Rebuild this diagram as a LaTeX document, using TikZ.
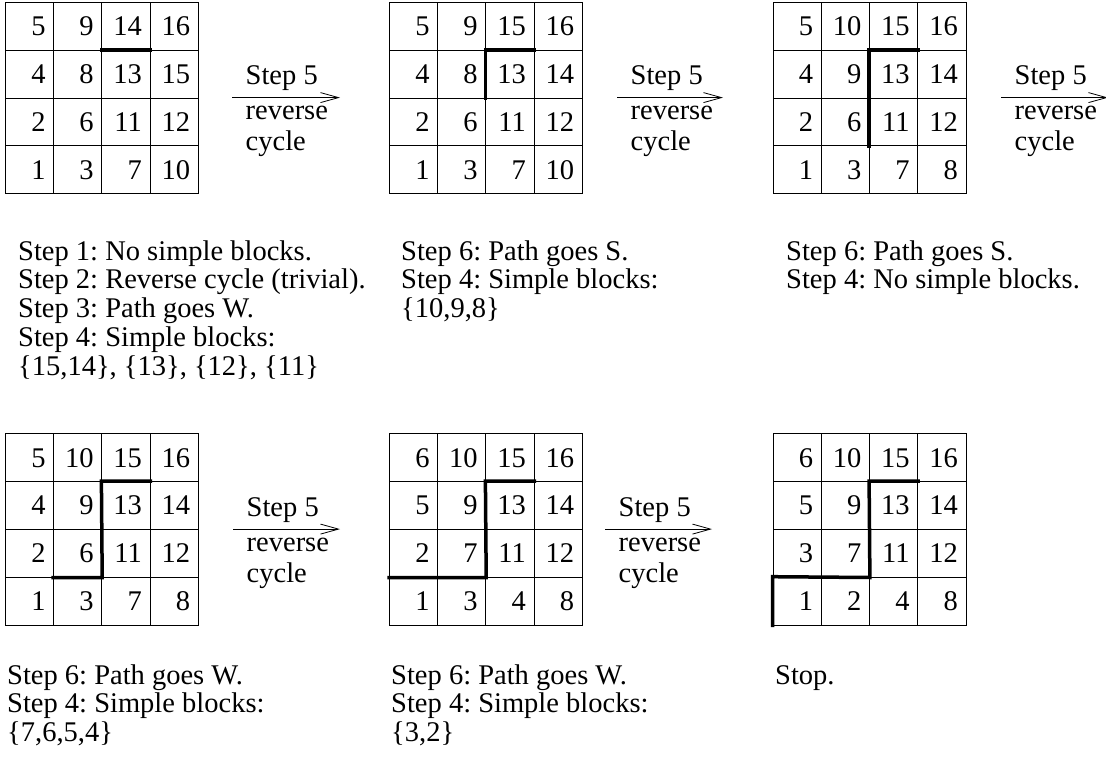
\documentclass[tikz,border=0pt]{standalone}
\usepackage{fontspec}
\setmainfont{Liberation Serif}
\usetikzlibrary{arrows.meta}
\frenchspacing
\newcommand{\gridat}[4]{%
  \foreach \row [count=\r from 0] in {#4} {
    \foreach \v [count=\c from 0] in \row {
      \node[cellbox] (#1-\r-\c) at ({#2+\c*48.2},{#3+\r*47.8}) {\v};
    }
  }
}
\begin{document}
\begin{tikzpicture}[x=1pt,y=-1pt,
  txt/.style={font=\fontsize{28.5}{28.8}\selectfont},
  cellbox/.style={draw, line width=0.8pt, minimum width=48.2pt, minimum height=47.8pt,
    inner sep=0pt, text width=32pt, align=right, text height=19pt, text depth=0pt,
    txt, anchor=north west},
  pathline/.style={line width=3.5pt, line join=miter, line cap=rect},
  steparrow/.style={line width=0.8pt, -{Straight Barb[length=18pt,width=10pt]}},
  lbl/.style={txt, anchor=base west, inner sep=0pt},
  block/.style={txt, anchor=base west, inner sep=0pt, align=left}
]
\fill[white] (0,0) rectangle (1106,768);
\useasboundingbox (0,0) rectangle (1106,768);

% grids
\gridat{g1}{5}{2}{{5,9,14,16},{4,8,13,15},{2,6,11,12},{1,3,7,10}}
\gridat{g2}{389}{2}{{5,9,15,16},{4,8,13,14},{2,6,11,12},{1,3,7,10}}
\gridat{g3}{772.7}{2}{{5,10,15,16},{4,9,13,14},{2,6,11,12},{1,3,7,8}}
\gridat{g4}{5}{433.3}{{5,10,15,16},{4,9,13,14},{2,6,11,12},{1,3,7,8}}
\gridat{g5}{389}{433.3}{{6,10,15,16},{5,9,13,14},{2,7,11,12},{1,3,4,8}}
\gridat{g6}{772.7}{433.3}{{6,10,15,16},{5,9,13,14},{3,7,11,12},{1,2,4,8}}

% thick paths
\draw[pathline] (g1-1-2.north west) -- (g1-1-2.north east);
\draw[pathline] (g2-1-2.south west) -- (g2-1-2.north west) -- (g2-1-2.north east);
\draw[pathline] (g3-2-2.south west) -- (g3-1-2.north west) -- (g3-1-2.north east);
\draw[pathline] (g4-2-1.south west) -- (g4-2-1.south east) -- (g4-1-2.north west) -- (g4-1-2.north east);
\draw[pathline] (g5-2-0.south west) -- (g5-2-1.south east) -- (g5-1-2.north west) -- (g5-1-2.north east);
\draw[pathline] (g6-3-0.south west) -- (g6-3-0.north west) -- (g6-2-1.south east) -- (g6-1-2.north west) -- (g6-1-2.north east);

% arrows
\foreach \n/\xs/\xe/\y in {a1/232/340/97.6, a2/617/723/97.6, a3/1001/1108/97.6, a4/233/340/529.1, a5/605/712/529.1} {
  \coordinate (\n-s) at (\xs,\y);
  \coordinate (\n-e) at (\xe,\y);
  \draw[steparrow] (\n-s) -- (\n-e);
  \node[lbl] (\n-t1) at ([xshift=13.5pt,yshift=13pt]\n-s) {Step 5};
  \node[lbl] (\n-t2) at ([xshift=13.5pt,yshift=-22pt]\n-s) {reverse};
  \node[lbl] (\n-t3) at ([xshift=13.5pt,yshift=-53pt]\n-s) {cycle};
}

% text blocks (anchor = baseline of last line)
\node[block] (b1) at (18,375.2) {Step 1: No simple blocks.\\Step 2: Reverse cycle (trivial).\\Step 3: Path goes W.\\Step 4: Simple blocks:\\\{15,14\}, \{13\}, \{12\}, \{11\}};
\node[block] (b2) at (401,317.6) {Step 6: Path goes S.\\Step 4: Simple blocks:\\\{10,9,8\}};
\node[block] (b3) at (786,288.8) {Step 6: Path goes S.\\Step 4: No simple blocks.};
\node[block] (b4) at (7,741.6) {Step 6: Path goes W.\\Step 4: Simple blocks:\\\{7,6,5,4\}};
\node[block] (b5) at (391,741.6) {Step 6: Path goes W.\\Step 4: Simple blocks:\\\{3,2\}};
\node[block] (b6) at (775,684) {Stop.};
\end{tikzpicture}
\end{document}
